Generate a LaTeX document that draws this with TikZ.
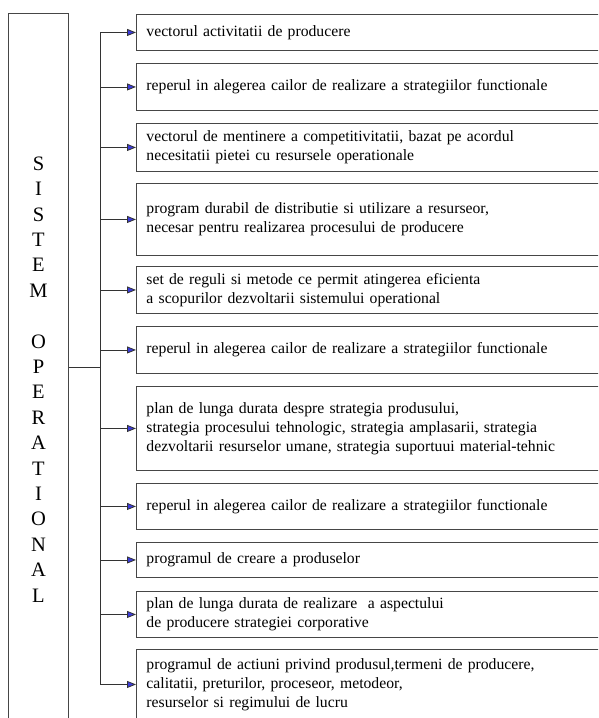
\documentclass[tikz,border=0pt]{standalone}
\usepackage{fontspec}
\setmainfont{Liberation Serif}
\usetikzlibrary{arrows.meta}
\definecolor{tipblue}{RGB}{60,60,220}
\begin{document}
\begin{tikzpicture}[x=1pt,y=-1pt,
  box/.style={draw=gray!55!black, line width=0.9pt, anchor=north west,
    minimum width=480pt, text width=460pt, inner xsep=10pt, inner ysep=0pt,
    align=left, font=\fontsize{15.7}{19}\selectfont},
  sysbox/.style={draw=gray!55!black, line width=0.9pt, anchor=north west,
    minimum width=60pt, inner sep=0pt, align=center,
    font=\fontsize{20.5}{25.4}\selectfont},
  link/.style={draw=black!80, line width=0.8pt,
    -{Triangle[length=9pt,width=7pt,fill=tipblue]}},
  bus/.style={draw=black!80, line width=0.8pt}]
\clip (0,0) rectangle (598,718);
\node[sysbox, minimum height=732pt] (sys) at (8,13)
  {S\\I\\S\\T\\E\\M\\\mbox{}\\O\\P\\E\\R\\A\\T\\I\\O\\N\\A\\L};
\node[box, minimum height=36pt] (b1) at (136,14) {vectorul activitatii de producere};
\node[box, minimum height=47pt] (b2) at (136,63) {reperul in alegerea cailor de realizare a strategiilor functionale};
\node[box, minimum height=48pt] (b3) at (136,123) {vectorul de mentinere a competitivitatii, bazat pe acordul\\necesitatii pietei cu resursele operationale};
\node[box, minimum height=72pt] (b4) at (136,183) {program durabil de distributie si utilizare a resurseor,\\necesar pentru realizarea procesului de producere};
\node[box, minimum height=47pt] (b5) at (136,266) {set de reguli si metode ce permit atingerea eficienta\\a scopurilor dezvoltarii sistemului operational};
\node[box, minimum height=47pt] (b6) at (136,326) {reperul in alegerea cailor de realizare a strategiilor functionale};
\node[box, minimum height=84pt] (b7) at (136,386) {plan de lunga durata despre strategia produsului,\\strategia procesului tehnologic, strategia amplasarii, strategia\\dezvoltarii resurselor umane, strategia suportuui material-tehnic};
\node[box, minimum height=46pt] (b8) at (136,483) {reperul in alegerea cailor de realizare a strategiilor functionale};
\node[box, minimum height=35pt] (b9) at (136,542) {programul de creare a produselor};
\node[box, minimum height=46pt] (b10) at (136,591) {plan de lunga durata de realizare\ \ a aspectului\\de producere strategiei corporative};
\node[box, minimum height=70pt] (b11) at (136,649) {programul de actiuni privind produsul,termeni de producere,\\calitatii, preturilor, proceseor, metodeor,\\resurselor si regimului de lucru};
\coordinate (bus) at (100,0);
\coordinate (j) at (100,367);
\draw[bus] (bus |- b1.west) -- (bus |- b11.west);
\draw[bus] (sys.east |- j) -- (j);
\foreach \i in {1,...,11} \draw[link] (bus |- b\i.west) -- (b\i.west);
\end{tikzpicture}
\end{document}
